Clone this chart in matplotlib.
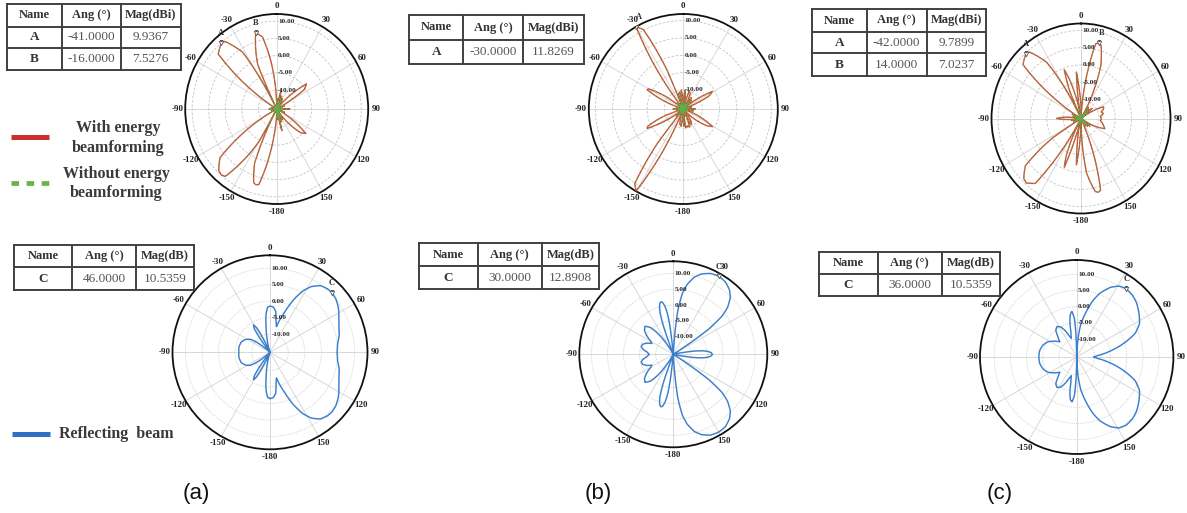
import numpy as np
import matplotlib
matplotlib.use("Agg")
import matplotlib.pyplot as plt
from matplotlib.lines import Line2D

W, H = 1187, 513
fig = plt.figure(figsize=(W / 100, H / 100), dpi=100)

SERIF = ["Liberation Serif", "DejaVu Serif"]
SANS = ["Liberation Sans", "DejaVu Sans"]
RMIN = -15.5

# ---------------------------------------------------------------- axes text
theta_ticks = [0, 30, 60, 90, 120, 150, 180, 210, 240, 270, 300, 330]
theta_labels = ["0", "30", "60", "90", "120", "150", "-180", "-150", "-120", "-90", "-60", "-30"]
ring_values = [-10, -5, 0, 5, 10]
ring_labels = ["-10.00", "-5.00", "0.00", "5.00", "10.00"]

# ---------------------------------------------------------------- (a) radiation, dBi
a_top_ang = [-180, -177, -175, -173.9, -172.8, -171.7, -170.05, -168.4, -166.2, -164,
             -162, -160, -158.5, -157, -156, -155, -154, -152, -150.7, -149.4,
             -148.1, -146.15, -144.2, -141.6, -139, -135.6, -132.2, -129.65, -127.1, -125.4,
             -123.7, -122, -118, -112, -106, -100, -93,
             -90, -87, -80, -74, -68, -62, -58, -56.3, -54.6, -52.9,
             -50.35, -47.8, -44.4, -41, -38.4, -35.8, -33.85, -31.9, -30.6, -29.3,
             -28, -26, -25, -24, -23, -21.5, -20, -18, -16, -13.8,
             -11.6, -9.95, -8.3, -7.2, -6.1, -5, -3, -1,
             0, 3, 6, 11, 14, 17, 22, 26, 30, 34,
             40.2, 41.4, 42.6, 44.4, 46.2, 48.6, 51, 53.4, 55.8, 57.6,
             59.4, 60.6, 61.8, 68, 74, 80, 86,
             90, 94, 100, 106, 112, 118.2, 119.4, 120.6, 122.4, 124.2,
             126.6, 129, 131.4, 133.8, 135.6, 137.4, 138.6, 139.8, 146, 150,
             154, 158, 163, 166, 169, 174, 177, 180]
a_top_with = [-15.5, -12.5, -15.5, -7.5, -1.5, 1.5, 4.3, 5.9, 7.1, 7.4,
              7.0, 5.9, 4.3, 1.5, -1.5, -7.5, -15.5, -15.5, -5.0, 0.9,
              3.9, 6.7, 8.3, 9.5, 9.9, 9.5, 8.3, 6.7, 3.9, 0.9,
              -5.0, -15.5, -15.5, -14.0, -15.5, -13.8, -15.5,
              -13.2, -15.5, -13.8, -15.5, -14.0, -15.5, -15.5, -5.0, 0.9, 3.9,
              6.7, 8.3, 9.5, 9.9367, 9.5, 8.3, 6.7, 3.9, 0.9, -5.0,
              -15.5, -15.5, -7.5, -1.5, 1.5, 4.3, 5.9, 7.1, 7.5276, 7.1,
              5.9, 4.3, 1.5, -1.5, -7.5, -15.5, -13.0, -15.5,
              -15.5, -12.5, -15.5, -15.5, -9.5, -15.5, -11.5, -15.5, -12.0, -15.5,
              -15.5, -12.9, -9.9, -7.1, -5.5, -4.3, -3.9, -4.3, -5.5, -7.1,
              -9.9, -12.9, -15.5, -13.0, -15.5, -14.0, -15.5,
              -11.5, -15.5, -14.0, -15.5, -13.0, -15.5, -12.9, -9.9, -7.1, -5.5,
              -4.4, -4.2, -4.5, -5.6, -7.1, -9.9, -12.9, -15.5, -15.5, -12.0,
              -15.5, -11.5, -15.5, -9.0, -15.5, -15.5, -12.5, -15.5]
a_top_without = list(a_top_with)
a_top_names = ["A", "B"]
a_top_peak_ang = [-41.0, -16.0]
a_top_peak_mag = [9.9367, 7.5276]

# ---------------------------------------------------------------- (a) reflection, dB
a_bot_ang = [-180, -177, -174, -171, -167, -162, -156, -153.5, -151.5, -149,
             -146.5, -144.5, -142, -132, -128, -124, -118, -110, -100,
             -90, -80, -70, -62, -56, -52, -48, -38, -35.5, -33.5,
             -31, -28.5, -26.5, -24, -18, -13, -9, -6, -3,
             0, 4, 8, 11, 14, 17, 20, 24, 28, 32,
             37, 42, 46, 51, 57, 64, 70, 76, 83,
             90, 97, 104, 110, 116, 123, 129, 134, 138, 143,
             148, 152, 156, 160, 163, 166, 169, 172, 176, 180]
a_bot_refl = [-1.5, -1.8, -4.0, -8.0, -12.0, -15.5, -15.5, -10.0, -7.0, -5.8,
              -7.0, -10.0, -15.5, -15.5, -11.0, -8.5, -7.2, -6.3, -6.0,
              -6.1, -6.0, -6.3, -7.2, -8.5, -11.0, -15.5, -15.5, -10.0, -7.0,
              -5.8, -7.0, -10.0, -15.5, -15.5, -12.0, -8.0, -4.0, -1.8,
              -1.5, -1.7, -3.0, -6.0, -7.5, -5.0, -2.5, 1.9, 5.5, 8.0,
              9.8, 10.4, 10.5359, 10.1, 9.1, 7.6, 6.6, 6.0, 5.0,
              4.7, 5.0, 6.0, 6.6, 7.6, 9.1, 10.1, 10.5, 10.4, 9.8,
              8.0, 5.5, 1.9, -2.5, -5.0, -7.5, -6.0, -3.0, -1.7, -1.5]
a_bot_names = ["C"]
a_bot_peak_ang = [46.0]
a_bot_peak_mag = [10.5359]

# ---------------------------------------------------------------- (b) radiation, dBi
b_top_ang = [-180, -176, -173, -170, -167, -164, -161,
             -158, -157.2, -156.4, -155.6, -154.4, -153.2, -151.6, -150, -148.4, -146.8,
             -145.6, -144.4, -143.6, -142.8, -142, -137, -133,
             -129, -126.8, -125.7, -124.05, -122.4, -120.2, -118, -115.8, -113.6, -111.95,
             -110.3, -109.2, -107, -100, -95,
             -90, -85, -80, -76,
             -73, -70.8, -69.7, -68.05, -66.4, -64.2, -62, -59.8, -57.6, -55.95,
             -54.3, -53.2, -51, -47, -43, -40.5,
             -38, -37.2, -36.4, -35.6, -34.4, -33.2, -31.6, -30, -28.4, -26.8,
             -25.6, -24.4, -23.6, -22.8, -22, -18, -15, -12, -9, -6, -3,
             0, 3, 6, 9, 12, 15, 18, 21, 24, 27, 30, 33, 36, 39, 43,
             47.5, 50.2, 51.3, 52.95, 54.6, 56.8, 59, 61.2, 63.4, 65.05, 66.7, 67.8, 70,
             75, 80, 85,
             90, 95, 100, 105,
             110, 112.2, 113.3, 114.95, 116.6, 118.8, 121, 123.2, 125.4, 127.05, 128.7, 129.8, 132,
             136, 139, 142, 145, 148, 151, 154, 157, 160, 163, 166, 169, 172, 175, 178, 180]
b_top_with = [-12.0, -15.5, -10.5, -15.5, -11.0, -15.5, -12.0,
              -15.5, -3.2, 2.8, 5.8, 8.6, 10.2, 11.4, 11.8, 11.4, 10.2,
              8.6, 5.8, 2.8, -3.2, -15.5, -12.5, -15.5,
              -15.5, -12.6, -9.6, -6.8, -5.2, -4.0, -3.6, -4.0, -5.2, -6.8,
              -9.6, -12.6, -15.5, -13.5, -15.5,
              -12.5, -15.5, -13.5, -15.5,
              -15.5, -12.6, -9.6, -6.8, -5.2, -4.0, -3.6, -4.0, -5.2, -6.8,
              -9.6, -12.6, -15.5, -13.0, -15.5, -13.0,
              -15.5, -3.2, 2.8, 5.8, 8.6, 10.2, 11.4, 11.8269, 11.4, 10.2,
              8.6, 5.8, 2.8, -3.2, -15.5, -11.0, -15.5, -10.5, -15.5, -10.0, -15.5,
              -11.5, -15.5, -10.0, -15.5, -10.5, -15.5, -10.0, -15.5, -10.5, -15.5, -11.0, -15.5, -11.5, -15.5, -12.0,
              -15.5, -14.6, -11.6, -8.8, -7.2, -6.0, -5.6, -6.0, -7.2, -8.8, -11.6, -14.6, -15.5,
              -13.0, -15.5, -12.5,
              -12.0, -15.5, -12.5, -15.5,
              -15.5, -14.6, -11.6, -8.8, -7.2, -6.0, -5.6, -6.0, -7.2, -8.8, -11.6, -14.6, -15.5,
              -12.0, -15.5, -11.5, -15.5, -11.0, -15.5, -10.5, -15.5, -10.0, -15.5, -10.5, -15.5, -10.0, -15.5, -10.5, -12.0]
b_top_without = list(b_top_with)
b_top_names = ["A"]
b_top_peak_ang = [-30.0]
b_top_peak_mag = [11.8269]

# ---------------------------------------------------------------- (b) reflection, dB
b_bot_ang = [-180, -175, -174.2, -173.4, -172.6, -171.4, -170.2, -168.6, -167, -165.4,
             -163.8, -162.6, -161.4, -160.6, -159.8, -159, -152, -148, -144, -140,
             -135, -130, -125, -120, -117, -113, -108, -104, -100, -95,
             -90, -85, -80, -76, -72, -67, -63, -60, -55, -50,
             -45, -40, -36, -32, -28, -21, -20.2, -19.4, -18.6, -17.4,
             -16.2, -14.6, -13, -11.4, -9.8, -8.6, -7.4, -6.6, -5.8, -5,
             3, 5.7, 8.4, 11.1, 15.15, 19.2, 24.6, 30, 35.4, 40.8,
             44.85, 48.9, 51.6, 54.3, 57, 77, 79.6, 80.9, 82.9, 84.8, 87.4,
             90, 92.6, 95.2, 97.1, 99.1, 100.4, 103, 123, 125.7, 128.4,
             131.1, 135.15, 139.2, 144.6, 150, 155.4, 160.8, 164.85, 168.9, 171.6,
             174.3, 177, 180]
b_bot_refl = [-15.5, -15.5, -13.5, -7.5, -4.5, -1.7, -0.1, 1.1, 1.5, 1.1,
              -0.1, -1.7, -4.5, -7.5, -13.5, -15.5, -15.5, -12.0, -7.5, -4.5,
              -3.0, -3.8, -5.5, -7.5, -8.0, -6.5, -5.4, -5.2, -5.8, -7.3,
              -8.0, -7.3, -5.8, -5.2, -5.4, -6.5, -8.0, -7.5, -5.5, -3.8,
              -3.0, -4.5, -7.5, -12.0, -15.5, -15.5, -13.5, -7.5, -4.5, -1.7,
              -0.1, 1.1, 1.5, 1.1, -0.1, -1.7, -4.5, -7.5, -13.5, -15.5,
              -15.5, -2.1, 3.9, 6.9, 9.7, 11.3, 12.5, 12.8908, 12.5, 11.3,
              9.7, 6.9, 3.9, -2.1, -15.5, -15.5, -12.3, -9.3, -6.5, -4.9, -3.7,
              -3.3, -3.7, -4.9, -6.5, -9.3, -12.3, -15.5, -15.5, -2.1, 3.9,
              6.9, 9.7, 11.3, 12.5, 12.8, 12.5, 11.3, 9.7, 6.9, 3.9,
              -2.1, -15.5, -15.5]
b_bot_names = ["C"]
b_bot_peak_ang = [30.0]
b_bot_peak_mag = [12.8908]

# ---------------------------------------------------------------- (c) radiation, dBi
c_top_ang = [-180, -177.6, -177.2, -176.2, -175.6, -174.8, -174, -173.2, -172.4, -171.8,
             -171.2, -170.8, -170.2,
             -165, -164, -163.5, -162.75, -162, -161, -160, -159, -158, -157.25,
             -156.5, -156, -155,
             -151, -149.7, -148.4, -147.1, -145.15, -143.2, -140.6, -138, -134.6, -131.2,
             -128.65, -126.1, -124.4, -122.7, -121, -112, -106, -100,
             -97, -95, -93, -90, -87, -85, -83, -80, -75, -70, -66, -62,
             -59, -57.3, -55.6, -53.9, -51.35, -48.8, -45.4, -42, -39.4, -36.8,
             -34.85, -32.9, -31.6, -30.3, -29,
             -25, -24, -23.5, -22.75, -22, -21, -20, -19, -18, -17.25, -16.5, -16, -15,
             -10, -9.2, -8.8, -8.2, -7.6, -6.8, -6, -5.2, -4.4, -3.8, -3.2, -2.8, -2,
             3, 4.1, 5.2, 6.3, 7.95, 9.6, 11.8, 14, 16.2, 18.4,
             20.05, 21.7, 22.8, 23.9, 25,
             28, 31, 35, 38, 42, 45, 49, 52,
             56, 60, 64, 68, 73, 78, 84,
             90, 96, 102, 107, 112, 116, 120, 124, 129, 134, 138, 143, 147, 151,
             155, 156.1, 157.2, 158.3, 159.95, 161.6, 163.8, 166, 168.2, 170.4,
             172.05, 173.7, 174.8, 175.9, 177, 180]
c_top_with = [-15.5, -11.0, -8.0, -5.2, -3.6, -2.4, -2.0, -2.4, -3.6, -5.2,
              -8.0, -11.0, -15.5,
              -15.5, -9.5, -6.5, -3.7, -2.1, -0.9, -0.5, -0.9, -2.1, -3.7,
              -6.5, -9.5, -15.5,
              -15.5, -5.4, 0.6, 3.6, 6.4, 8.0, 9.2, 9.6, 9.2, 8.0,
              6.4, 3.6, 0.6, -5.4, -15.5, -13.0, -15.5, -12.5,
              -15.5, -12.0, -9.5, -8.0, -9.5, -12.0, -15.5, -15.5, -13.0, -15.5, -12.5, -15.5,
              -15.5, -5.2, 0.8, 3.8, 6.6, 8.2, 9.4, 9.7899, 9.4, 8.2,
              6.6, 3.8, 0.8, -5.2, -15.5,
              -15.5, -9.5, -6.5, -3.7, -2.1, -0.9, -0.5, -0.9, -2.1, -3.7, -6.5, -9.5, -15.5,
              -15.5, -11.0, -8.0, -5.2, -3.6, -2.4, -2.0, -2.4, -3.6, -5.2, -8.0, -11.0, -15.5,
              -15.5, -8.0, -2.0, 1.0, 3.8, 5.4, 6.6, 7.0237, 6.6, 5.4,
              3.8, 1.0, -2.0, -8.0, -15.5,
              -12.0, -15.5, -11.5, -15.5, -12.0, -15.5, -11.0, -15.5,
              -13.0, -10.0, -7.8, -8.0, -9.0, -8.5, -9.5,
              -9.2, -9.5, -8.5, -8.0, -7.6, -9.0, -12.0, -15.5, -12.0, -15.5, -12.5, -15.5, -13.0, -15.5,
              -15.5, -8.5, -2.5, 0.5, 3.3, 4.9, 6.1, 6.5, 6.1, 4.9,
              3.3, 0.5, -2.5, -8.5, -15.5, -15.5]
c_top_without = list(c_top_with)
c_top_names = ["A", "B"]
c_top_peak_ang = [-42.0, 14.0]
c_top_peak_mag = [9.7899, 7.0237]

# ---------------------------------------------------------------- (c) reflection, dB
c_bot_ang = [-180, -178, -176.5, -174, -171.5, -169, -167, -164, -160, -156,
             -152, -147, -142, -137, -132, -125, -118, -110, -100,
             -90, -80, -70, -62, -55, -48, -43, -38, -33, -28,
             -24, -20, -16, -13, -11, -8.5, -6, -3.5, -2, -1,
             2, 4, 7, 12, 16, 20, 26, 31, 36, 42,
             48, 55, 62, 68, 74, 80, 86,
             90, 94, 100, 106, 112, 118, 125, 132, 138, 144, 149,
             154, 160, 164, 168, 173, 176, 178, 180]
c_bot_refl = [-15.5, -8.0, -3.5, -1.6, -2.2, -4.5, -7.5, -9.5, -8.5, -6.5,
              -5.0, -4.3, -5.0, -7.0, -8.5, -7.0, -5.5, -4.5, -3.9,
              -3.8, -3.9, -4.5, -5.5, -7.0, -8.5, -7.0, -5.0, -4.3, -5.0,
              -6.5, -8.5, -9.5, -7.5, -4.5, -2.2, -1.4, -3.5, -8.0, -15.5,
              -15.5, -10.0, -5.5, -1.2, 2.5, 5.4, 8.4, 10.0, 10.5359, 10.2,
              9.4, 8.0, 6.5, 4.0, -0.5, -5.0, -9.0,
              -10.3, -9.0, -5.0, -0.5, 4.0, 6.5, 8.0, 9.4, 10.2, 10.5, 10.0,
              8.4, 5.4, 2.5, -1.2, -5.5, -10.0, -15.5, -15.5]
c_bot_names = ["C"]
c_bot_peak_ang = [36.0]
c_bot_peak_mag = [10.5359]

RED = "#e63c32"
GREEN = "#57b24a"
BLUE = "#3b7fcc"
TXT = "#3a3a3a"


def fx(x):
    return x / W


def fy(y):
    return 1 - y / H


def polar_panel(cx, cy, rh, rv, rmax, dotted):
    ax = fig.add_axes([fx(cx - rh), fy(cy + rv), 2 * rh / W, 2 * rv / H], projection="polar")
    ax.set_aspect("auto")
    ax.set_theta_zero_location("N")
    ax.set_theta_direction(-1)
    ax.set_rlim(RMIN, rmax)
    ax.set_rgrids(ring_values, labels=[""] * len(ring_values))
    ax.set_thetagrids(theta_ticks, theta_labels, fontsize=6.4, fontweight="bold",
                      family=SERIF, color="#222222")
    ax.tick_params(axis="x", which="major", pad=-1.5, direction="in", length=4, width=0.8)
    ax.set_xticks(np.deg2rad(np.arange(0, 360, 5)), minor=True)
    ax.tick_params(axis="x", which="minor", direction="in", length=2.2, width=0.6)
    ax.tick_params(axis="y", length=0)
    ring_style = (0, (1, 1.5)) if dotted else (0, (3, 2))
    ax.yaxis.grid(True, color="#c4c4c4", lw=0.6, linestyle=ring_style)
    ax.xaxis.grid(True, color="#d8d8d8", lw=0.7, linestyle="-")
    ax.spines["polar"].set_linewidth(1.3)
    ax.spines["polar"].set_color("#111111")
    ax.set_facecolor("none")
    for v, lab in zip(ring_values, ring_labels):
        ax.annotate(lab, xy=(0, v), xytext=(1, 0), textcoords="offset points",
                    ha="left", va="center", fontsize=5.2, fontweight="bold",
                    family=SERIF, color="#2a2a2a", zorder=6)
    return ax


def draw_pattern(ax, ang, vals, color, **kw):
    t = np.deg2rad(np.asarray(ang, dtype=float))
    r = np.clip(np.asarray(vals, dtype=float), RMIN, None)
    ln, = ax.plot(t, r, color=color, **kw)
    # let the polar transform bend each segment along (theta, r)
    ln.get_path()._interpolation_steps = 24
    return ln


def draw_markers(ax, names, angs, mags, dxs):
    for n, a, m, dx in zip(names, angs, mags, dxs):
        ax.plot(np.deg2rad(a), m, marker="v", ms=3.2, mfc="white", mec="#555555",
                mew=0.6, zorder=7)
        ax.annotate(n, xy=(np.deg2rad(a), m), xytext=(dx, 4), textcoords="offset points",
                    ha="center", va="bottom", fontsize=6, fontweight="bold",
                    family=SERIF, color="#333333", zorder=7)


def draw_table(xs, ys, header, rows):
    lc = "#404040"
    for x in xs:
        fig.add_artist(Line2D([fx(x)] * 2, [fy(ys[0]), fy(ys[-1])], color=lc, lw=1.4))
    for y in ys:
        fig.add_artist(Line2D([fx(xs[0]), fx(xs[-1])], [fy(y)] * 2, color=lc, lw=1.4))
    for i, txt in enumerate(header):
        fig.text(fx((xs[i] + xs[i + 1]) / 2), fy((ys[0] + ys[1]) / 2), txt,
                 ha="center", va="center", fontsize=9, fontweight="bold",
                 family=SERIF, color="#333333")
    for j, row in enumerate(rows):
        yc = (ys[j + 1] + ys[j + 2]) / 2
        for i, txt in enumerate(row):
            fig.text(fx((xs[i] + xs[i + 1]) / 2), fy(yc), txt, ha="center", va="center",
                     fontsize=9.5, fontweight="bold" if i == 0 else "normal",
                     family=SERIF, color="#333333" if i == 0 else "#555555")


def table_rows(names, angs, mags):
    return [[n, f"{a:.4f}", f"{m:.4f}"] for n, a, m in zip(names, angs, mags)]


# ---------------------------------------------------------------- radiation panels
tops = [
    ((276.7, 109, 91.5, 95, 12.1), a_top_ang, a_top_with, a_top_without,
     a_top_names, a_top_peak_ang, a_top_peak_mag, [0, 0]),
    ((683.3, 109, 94.5, 95, 11.9), b_top_ang, b_top_with, b_top_without,
     b_top_names, b_top_peak_ang, b_top_peak_mag, [2]),
    ((1081, 118.5, 89.5, 95, 12.0), c_top_ang, c_top_with, c_top_without,
     c_top_names, c_top_peak_ang, c_top_peak_mag, [0, 2]),
]
for geo, ang, w_bf, wo_bf, names, pa, pm, dxs in tops:
    ax = polar_panel(*geo, dotted=False)
    draw_pattern(ax, ang, w_bf, RED, lw=0.95, zorder=4)
    draw_pattern(ax, ang, wo_bf, GREEN, lw=0.75, dashes=(1.5, 2.0), zorder=5)
    draw_markers(ax, names, pa, pm, dxs)

bottoms = [
    ((270, 352.3, 97.5, 97, 13.9), a_bot_ang, a_bot_refl, a_bot_names, a_bot_peak_ang, a_bot_peak_mag),
    ((673.3, 354.3, 94, 93, 13.8), b_bot_ang, b_bot_refl, b_bot_names, b_bot_peak_ang, b_bot_peak_mag),
    ((1076.7, 357, 96.7, 97, 14.4), c_bot_ang, c_bot_refl, c_bot_names, c_bot_peak_ang, c_bot_peak_mag),
]
for geo, ang, refl, names, pa, pm in bottoms:
    ax = polar_panel(*geo, dotted=True)
    draw_pattern(ax, ang, refl, BLUE, lw=1.05, zorder=4)
    draw_markers(ax, names, pa, pm, [0])

# ---------------------------------------------------------------- tables
hdr_dbi = ["Name", "Ang (°)", "Mag(dBi)"]
hdr_db = ["Name", "Ang (°)", "Mag(dB)"]
draw_table([7, 61.5, 120.5, 180.7], [4, 26.5, 48.3, 70], hdr_dbi,
           table_rows(a_top_names, a_top_peak_ang, a_top_peak_mag))
draw_table([14, 72.3, 136, 194.3], [245, 267.3, 290], hdr_db,
           table_rows(a_bot_names, a_bot_peak_ang, a_bot_peak_mag))
draw_table([409.3, 463.3, 523.3, 583.7], [15, 40, 64.3], hdr_dbi,
           table_rows(b_top_names, b_top_peak_ang, b_top_peak_mag))
draw_table([419.3, 477.7, 541.7, 599.3], [243.3, 266, 289.3], hdr_db,
           table_rows(b_bot_names, b_bot_peak_ang, b_bot_peak_mag))
draw_table([812.3, 866.7, 926.7, 985.7], [9.3, 31.7, 53.3, 75.7], hdr_dbi,
           table_rows(c_top_names, c_top_peak_ang, c_top_peak_mag))
draw_table([819.3, 877.7, 941.7, 1000], [252.3, 274, 296], hdr_db,
           table_rows(c_bot_names, c_bot_peak_ang, c_bot_peak_mag))

# ---------------------------------------------------------------- legend
fig.add_artist(Line2D([fx(11), fx(49)], [fy(136.5)] * 2, color="#c8302c", lw=3.6,
                      solid_capstyle="butt"))
fig.text(fx(118), fy(128), "With energy", ha="center", va="center", fontsize=11.5,
         fontweight="bold", family=SERIF, color=TXT)
fig.text(fx(118), fy(148), "beamforming", ha="center", va="center", fontsize=11.5,
         fontweight="bold", family=SERIF, color=TXT)
fig.add_artist(Line2D([fx(11), fx(49)], [fy(182.5)] * 2, color="#6ab04c", lw=3.4,
                      dashes=(1.6, 1.6), solid_capstyle="butt", dash_capstyle="butt"))
fig.text(fx(116), fy(174), "Without energy", ha="center", va="center", fontsize=11.5,
         fontweight="bold", family=SERIF, color=TXT)
fig.text(fx(116), fy(193), "beamforming", ha="center", va="center", fontsize=11.5,
         fontweight="bold", family=SERIF, color=TXT)
fig.add_artist(Line2D([fx(12), fx(50)], [fy(433.5)] * 2, color="#2f72c4", lw=3.6,
                      solid_capstyle="butt"))
fig.text(fx(59), fy(433.5), "Reflecting  beam", ha="left", va="center", fontsize=11.5,
         fontweight="bold", family=SERIF, color=TXT)

# ---------------------------------------------------------------- captions
for x, lab in [(196, "(a)"), (598, "(b)"), (1000, "(c)")]:
    fig.text(fx(x), fy(493), lab, ha="center", va="center", fontsize=16, family=SANS,
             color="#111111")

fig.savefig("out.png", dpi=100)
